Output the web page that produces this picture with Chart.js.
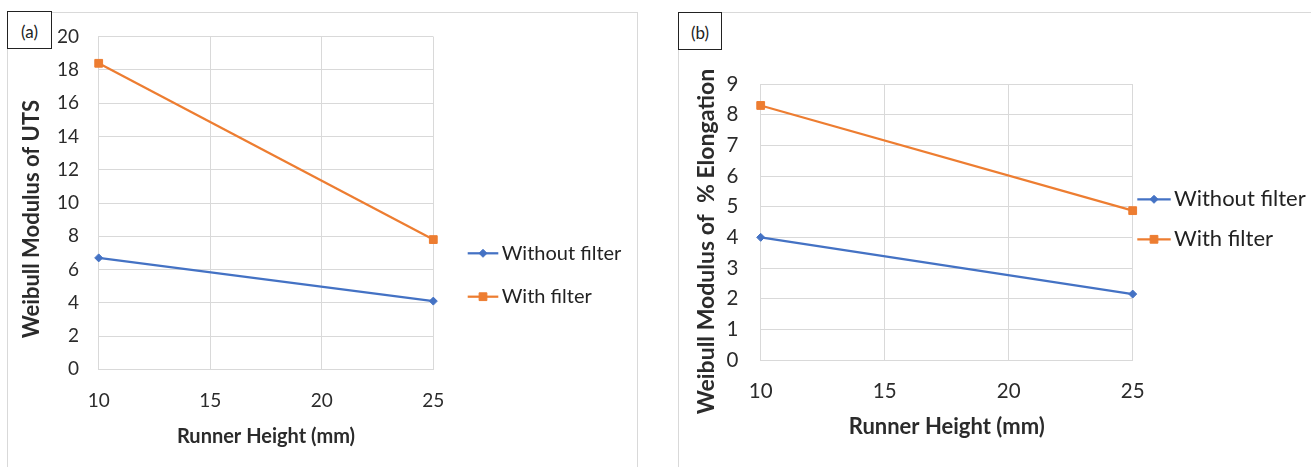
<!DOCTYPE html>
<html lang="en">
<head>
<meta charset="UTF-8">
<title>Weibull Modulus vs Runner Height</title>
<script src="https://cdn.jsdelivr.net/npm/chart.js"></script>
<style>
body{
    margin:0;
    background:#fff;
    width:1311px;
    height:467px;
    overflow:hidden;
    position:relative;
    font-family:Lato, sans-serif;
}
.frame{position:absolute;top:12px;height:470px;border:1px solid #d9d9d9;box-sizing:border-box;}
.box{position:absolute;top:12px;height:455px;}
.tag{
    position:absolute;
    height:38px;
    border:1px solid #222;
    box-sizing:border-box;
    background:#fff;
    font-size:17px;
    color:#222;
    text-align:center;
    line-height:40px;
}
</style>
</head>
<body>

<div class="frame" style="left:7px;width:631px"></div>
<div class="frame" style="left:678px;width:640px"></div>
<div class="box" style="left:7px;width:631px"><canvas id="chartA"></canvas></div>
<div class="box" style="left:678px;width:633px"><canvas id="chartB"></canvas></div>
<div class="tag" style="left:7px;top:11px;width:45px">(a)</div>
<div class="tag" style="left:678px;top:12px;width:44px">(b)</div>

<script>

// data
const runnerHeight = [10, 25];
const seriesNames = ['Without filter', 'With filter'];
const utsWithout = [6.7, 4.1];
const utsWith = [18.4, 7.8];
const elongWithout = [4.0, 2.15];
const elongWith = [8.3, 4.87];

const xTicks = [10, 15, 20, 25];
const utsTicks = [0, 2, 4, 6, 8, 10, 12, 14, 16, 18, 20];
const elongTicks = [0, 1, 2, 3, 4, 5, 6, 7, 8, 9];

const BLUE = '#4472C4';
const ORANGE = '#ED7D31';
const GRID = '#d9d9d9';
const TEXT = '#2b2b2b';

// excel style legend: line with the marker in the middle
const excelLegend = {
    id:'excelLegend',
    afterDraw(chart, args, o){
        const ctx = chart.ctx;
        chart.data.datasets.forEach((ds,i)=>{
            const y = o.rows[i];
            ctx.save();
            ctx.strokeStyle = ds.borderColor;
            ctx.lineWidth = 2.25;
            ctx.beginPath();
            ctx.moveTo(o.x0, y);
            ctx.lineTo(o.x1, y);
            ctx.stroke();
            ctx.fillStyle = ds.backgroundColor;
            ctx.lineWidth = 1;
            Chart.helpers.drawPoint(ctx, {pointStyle:ds.pointStyle, radius:ds.pointRadius, rotation:0, borderWidth:1}, (o.x0+o.x1)/2, y);
            ctx.fillStyle = '#222';
            ctx.font = o.size + 'px Lato, sans-serif';
            ctx.textBaseline = 'middle';
            ctx.textAlign = 'left';
            ctx.fillText(ds.label, o.textX, y);
            ctx.restore();
        });
    }
};

function pts(ys){
    return runnerHeight.map((x,i)=>({x:x, y:ys[i]}));
}

function makeChart(id, without, withF, yTicks, yTitle, lay){
    return new Chart(document.getElementById(id), {
        type:'line',
        data:{
            datasets:[{
                label:seriesNames[0],
                data:pts(without),
                borderColor:BLUE,
                backgroundColor:BLUE,
                borderWidth:2.25,
                pointStyle:'rectRot',
                pointRadius:4,
                pointBorderWidth:1,
                clip:false
            },{
                label:seriesNames[1],
                data:pts(withF),
                borderColor:ORANGE,
                backgroundColor:ORANGE,
                borderWidth:2.25,
                pointStyle:'rect',
                pointRadius:5.5,
                pointBorderWidth:1,
                clip:false
            }]
        },
        options:{
            responsive:true,
            maintainAspectRatio:false,
            animation:false,
            layout:{padding:lay.padding},
            plugins:{
                legend:{display:false},
                tooltip:{enabled:false},
                excelLegend:lay.legend
            },
            scales:{
                x:{
                    type:'linear',
                    min:xTicks[0],
                    max:xTicks[xTicks.length-1],
                    ticks:{stepSize:xTicks[1]-xTicks[0], padding:2, color:TEXT, font:{family:'Lato', size:lay.tickSize}},
                    grid:{color:GRID, tickColor:'transparent', tickLength:lay.xTickGap},
                    border:{color:GRID},
                    title:{display:true, text:'Runner Height (mm)', color:TEXT,
                        font:{family:'Lato', size:lay.xTitleSize, weight:'bold'}, padding:{top:0, bottom:2}},
                    afterFit(s){ s.height = lay.xHeight; }
                },
                y:{
                    min:yTicks[0],
                    max:yTicks[yTicks.length-1],
                    ticks:{stepSize:yTicks[1]-yTicks[0], padding:2, color:TEXT, font:{family:'Lato', size:lay.tickSize}},
                    grid:{color:GRID, tickColor:'transparent', tickLength:lay.yTickGap},
                    border:{color:GRID},
                    title:{display:true, text:yTitle, color:TEXT,
                        font:{family:'Lato', size:lay.yTitleSize, weight:'bold'}, padding:{top:lay.yTitlePad, bottom:0}},
                    afterFit(s){ s.width = lay.yWidth; }
                }
            }
        },
        plugins:[excelLegend]
    });
}

makeChart('chartA', utsWithout, utsWith, utsTicks, 'Weibull Modulus of UTS      ', {
    padding:{left:10, top:24.7, right:204.7, bottom:16.5},
    tickSize:19, xTitleSize:20, yTitleSize:22,
    xHeight:81.2, xTickGap:18.3, yWidth:81.7, yTickGap:17.7, yTitlePad:1.8,
    legend:{x0:460.7, x1:491.3, textX:494.7, rows:[241.3, 284.7], size:20}
});

makeChart('chartB', elongWithout, elongWith, elongTicks, 'Weibull Modulus of  % Elongation       ', {
    padding:{left:12, top:72, right:178.3, bottom:24.8},
    tickSize:20.5, xTitleSize:22, yTitleSize:23,
    xHeight:82.2, xTickGap:16.7, yWidth:70.7, yTickGap:20.4, yTitlePad:2.7,
    legend:{x0:459.3, x1:492.7, textX:496, rows:[187.3, 227.3], size:22}
});

</script>
</body>
</html>
